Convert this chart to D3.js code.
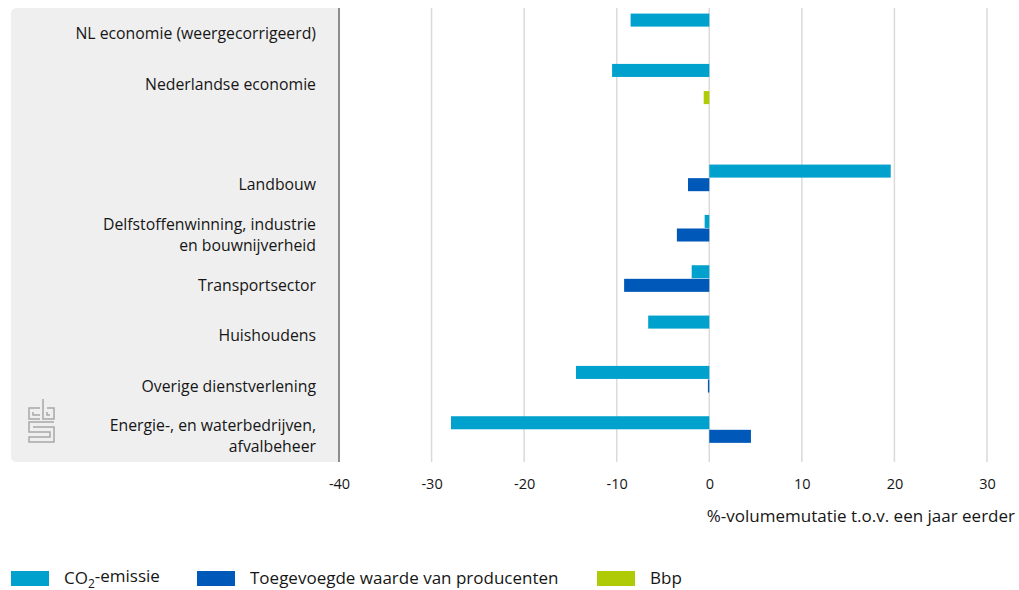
<!DOCTYPE html>
<html>
<head>
<meta charset="utf-8">
<script src="https://cdn.jsdelivr.net/npm/d3@7"></script>
<style>
  body { margin: 0; background: #fff; }
  svg { display: block; font-family: "Open Sans", "Noto Sans", sans-serif; }
</style>
</head>
<body>
<svg id="chart" width="1019" height="590"></svg>
<script>
// categories (top to bottom); empty one is the spacer row
const categories = [
  "NL economie (weergecorrigeerd)",
  "Nederlandse economie",
  "",
  "Landbouw",
  "Delfstoffenwinning, industrie|en bouwnijverheid",
  "Transportsector",
  "Huishoudens",
  "Overige dienstverlening",
  "Energie-, en waterbedrijven,|afvalbeheer"
];
const co2 = [-8.5, -10.5, null, 19.6, -0.5, -1.9, -6.6, -14.4, -27.9];
const toegevoegd = [null, null, null, -2.3, -3.5, -9.2, null, -0.15, 4.5];
const bbp = [null, -0.6, null, null, null, null, null, null, null];
const xTicks = [-40, -30, -20, -10, 0, 10, 20, 30];
const seriesNames = ["CO2-emissie", "Toegevoegde waarde van producenten", "Bbp"];
const colors = ["#00a1cd", "#0058b8", "#afcb05"];

const svg = d3.select("#chart");
const ids = categories.map((c, i) => "c" + i);
const textColor = "#161616";

const x = d3.scaleLinear().domain([-40, 30]).range([339, 987]);
const y = d3.scaleBand().domain(ids).range([8, 462]).paddingInner(0.18).paddingOuter(0.1);
const ySub = d3.scaleBand().domain([0, 1, 2]).range([0, y.bandwidth()]).padding(0.04);

// grey label panel
svg.append("path")
  .attr("d", "M338,8 H17 Q11,8 11,14 V456 Q11,462 17,462 H338 Z")
  .attr("fill", "#efefef");

// gridlines
svg.append("g").selectAll("line")
  .data(xTicks.filter(d => d > -40))
  .join("line")
  .attr("x1", d => x(d)).attr("x2", d => x(d))
  .attr("y1", 8).attr("y2", 462)
  .attr("stroke", "#dadada").attr("stroke-width", 1.5);

svg.append("line")
  .attr("x1", x(-40)).attr("x2", x(-40))
  .attr("y1", 8).attr("y2", 462)
  .attr("stroke", "#666").attr("stroke-width", 1.5);

// x axis labels
const xAxis = d3.axisBottom(x).tickValues(xTicks).tickSize(0).tickPadding(0)
  .tickFormat(d => String(d));
const gx = svg.append("g").attr("transform", "translate(0,479)").call(xAxis);
gx.select(".domain").remove();
gx.selectAll("text")
  .attr("font-size", 14.5).attr("fill", textColor)
  .attr("font-family", "Open Sans, sans-serif");

svg.append("text")
  .attr("x", 1015).attr("y", 522)
  .attr("text-anchor", "end")
  .attr("font-size", 17).attr("fill", textColor)
  .text("%-volumemutatie t.o.v. een jaar eerder");

// bars
const allSeries = [co2, toegevoegd, bbp];
allSeries.forEach((vals, s) => {
  svg.append("g").selectAll("rect")
    .data(vals.map((v, i) => ({ id: ids[i], v })).filter(d => d.v != null))
    .join("rect")
    .attr("x", d => x(Math.min(0, d.v)))
    .attr("width", d => Math.max(1, Math.abs(x(d.v) - x(0))))
    .attr("y", d => y(d.id) + ySub(s))
    .attr("height", ySub.bandwidth())
    .attr("fill", colors[s]);
});

// category labels
const labels = svg.append("g");
categories.forEach((c, i) => {
  if (!c) return;
  const lines = c.split("|");
  const cy = y(ids[i]) + y.bandwidth() / 2;
  const lh = 21;
  lines.forEach((ln, j) => {
    labels.append("text")
      .attr("x", 316)
      .attr("y", cy + (j - (lines.length - 1) / 2) * lh)
      .attr("dy", "0.35em")
      .attr("text-anchor", "end")
      .attr("font-size", 15.8).attr("fill", textColor)
      .text(ln);
  });
});

// cbs logo (approximate)
const logo = svg.append("g").attr("fill", "none").attr("stroke", "#a8a8a8").attr("stroke-width", 1.5);
logo.append("path").attr("d", "M40,408 H29 V419 H40 M33,412 V415 H40");
logo.append("path").attr("d", "M43,399 V419 H54 V408 H47 M47,412 V415 H50");
logo.append("path").attr("d", "M54,422 H29 V432 H50 V437 H29 V442 H54 V427 H33");

// legend
const leg = svg.append("g").attr("font-size", 17).attr("fill", textColor);
const legX = [11, 197, 597];
seriesNames.forEach((n, i) => {
  leg.append("rect").attr("x", legX[i]).attr("y", 571).attr("width", 38).attr("height", 15).attr("fill", colors[i]);
  const t = leg.append("text").attr("x", legX[i] + 53).attr("y", 578).attr("dy", "0.35em").attr("fill", textColor);
  if (i === 0) {
    t.append("tspan").text("CO");
    t.append("tspan").attr("font-size", 12).attr("dy", "0.3em").text("2");
    t.append("tspan").attr("dy", "-0.3em").text("-emissie");
  } else {
    t.text(n);
  }
});
</script>
</body>
</html>
